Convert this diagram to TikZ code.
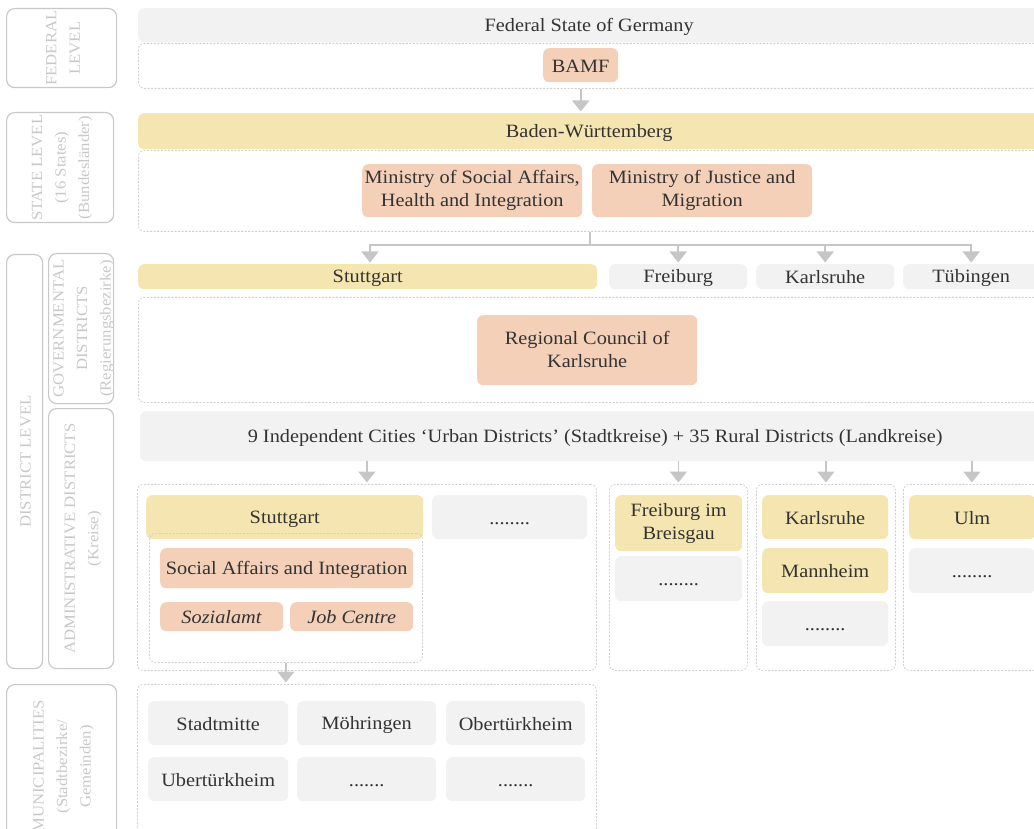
\documentclass[tikz,border=0pt]{standalone}
\usepackage{fontspec}
\setmainfont[FakeStretch=1.08]{Liberation Serif}
\usetikzlibrary{arrows.meta,calc}
\definecolor{tgray}{HTML}{F2F2F2}
\definecolor{tyel}{HTML}{F5E5B0}
\definecolor{tpeach}{HTML}{F4D0B9}
\definecolor{tline}{HTML}{D0D0D0}
\definecolor{tlab}{HTML}{C8C8C8}
\definecolor{tarrow}{HTML}{C6C6C6}
\definecolor{ttext}{HTML}{333333}
\newcommand\mystrut{\rule[-2pt]{0pt}{18pt}}
\tikzset{
 base/.style={rounded corners=6pt, inner sep=0pt, align=center, text=ttext, font=\fontsize{18.8}{23}\selectfont,
   execute at begin node=\mystrut, execute at end node=\mystrut},
 graybox/.style={base, fill=tgray},
 yelbox/.style={base, fill=tyel},
 peachbox/.style={base, fill=tpeach},
 cont/.style={rounded corners=6pt, inner sep=0pt, draw=tline, dash pattern=on 2pt off 1.5pt, line width=0.8pt},
 labbox/.style={rounded corners=8pt, inner sep=0pt, draw=tlab, line width=1.2pt},
 labtext/.style={rotate=90, align=center, text=tlab, font=\fontsize{15.5}{23.5}\selectfont},
 arr/.style={draw=tarrow, line width=1.8pt, shorten >=1.5pt, -{Triangle[width=17pt,length=11pt]}},
 conn/.style={draw=tarrow, line width=1.8pt},
}
\newcommand\bx[7]{\node[#2, minimum width={#5pt-#3pt}, minimum height={#6pt-#4pt}, anchor=north west] (#1) at (#3,#4) {#7};}
\begin{document}
\begin{tikzpicture}[x=1pt,y=-1pt]
\useasboundingbox (0,0) rectangle (1034,829);
\clip (0,0) rectangle (1034,829);
% left labels
\bx{labfed}{labbox}{6}{8}{116}{87}{}
\bx{labstate}{labbox}{6}{112}{113}{222}{}
\bx{labdist}{labbox}{6}{254}{42}{668}{}
\bx{labgov}{labbox}{48}{253}{113}{403}{}
\bx{labadm}{labbox}{48}{408}{113}{668}{}
\bx{labmun}{labbox}{6}{684}{116}{848}{}
\node[labtext] (tfed) at ($(labfed.center)+(1.5,0)$) {FEDERAL\\LEVEL};
\node[labtext] (tstate) at ($(labstate.center)+(2,0)$) {STATE LEVEL\\(16 States)\\(Bundesländer)};
\node[labtext] (tdist) at ($(labdist.center)+(1,0)$) {DISTRICT LEVEL};
\node[labtext] (tgov) at ($(labgov.center)+(2.5,0)$) {GOVERNMENTAL\\DISTRICTS\\(Regierungsbezirke)};
\node[labtext] (tadm) at ($(labadm.center)+(2,0)$) {ADMINISTRATIVE DISTRICTS\\(Kreise)};
\node[labtext] (tmun) at ($(labmun.center)+(2,0)$) {MUNICIPALITIES\\(Stadtbezirke/\\Gemeinden)};
% federal
\bx{fed}{graybox}{138}{8}{1040}{42}{Federal State of Germany}
\bx{fedcont}{cont}{138}{43}{1040}{88}{}
\bx{bamf}{peachbox}{543}{48}{618}{82}{BAMF}
% state
\bx{bw}{yelbox}{138}{113}{1040}{149}{Baden-Württemberg}
\bx{statecont}{cont}{138}{150}{1040}{231}{}
\bx{minsoc}{peachbox}{362}{164}{582}{217}{Ministry of Social Affairs,\\Health and Integration}
\bx{minjus}{peachbox}{592}{164}{812}{217}{Ministry of Justice and\\Migration}
% governmental districts
\bx{gstutt}{yelbox}{138}{264}{597}{289}{Stuttgart}
\bx{gfrei}{graybox}{609}{264}{747}{289}{Freiburg}
\bx{gkarl}{graybox}{756}{264}{894}{289}{Karlsruhe}
\bx{gtueb}{graybox}{903}{264}{1039}{289}{Tübingen}
\bx{govcont}{cont}{138}{297}{1040}{402}{}
\bx{regc}{peachbox}{477}{315}{697}{385}{Regional Council of\\Karlsruhe}
% administrative districts
\bx{indep}{graybox}{140}{411}{1050}{461}{9 Independent Cities ‘Urban Districts’ (Stadtkreise) + 35 Rural Districts (Landkreise)}
\bx{ac1}{cont}{137}{484}{596}{670}{}
\bx{ac2}{cont}{609}{484}{747}{670}{}
\bx{ac3}{cont}{756}{484}{895}{670}{}
\bx{ac4}{cont}{903}{484}{1040}{670}{}
\bx{astutt}{yelbox}{146}{495}{423}{539}{Stuttgart}
\bx{sinner}{cont}{149}{533}{422}{662}{}
\bx{social}{peachbox}{160}{548}{413}{588}{Social Affairs and Integration}
\bx{sozial}{peachbox}{160}{602}{283}{631}{\textit{Sozialamt}}
\bx{job}{peachbox}{290}{602}{413}{631}{\textit{Job Centre}}
\bx{adots1}{graybox}{432}{495}{587}{539}{........}
\bx{afrei}{yelbox}{615}{495}{742}{551}{Freiburg im\\Breisgau}
\bx{adots2}{graybox}{615}{556}{742}{601}{........}
\bx{akarl}{yelbox}{762}{495}{888}{539}{Karlsruhe}
\bx{amann}{yelbox}{762}{548}{888}{593}{Mannheim}
\bx{adots3}{graybox}{762}{601}{888}{646}{........}
\bx{aulm}{yelbox}{909}{495}{1035}{539}{Ulm}
\bx{adots4}{graybox}{909}{548}{1035}{593}{........}
% municipalities
\bx{mcont}{cont}{137}{684}{596}{850}{}
\bx{m1}{graybox}{148}{701}{288}{745}{Stadtmitte}
\bx{m2}{graybox}{297}{701}{436}{745}{Möhringen}
\bx{m3}{graybox}{446}{701}{585}{745}{Obertürkheim}
\bx{m4}{graybox}{148}{757}{288}{801}{Ubertürkheim}
\bx{m5}{graybox}{297}{757}{436}{801}{.......}
\bx{m6}{graybox}{446}{757}{585}{801}{.......}
% connectors
\draw[arr] (fedcont.south -| bamf.south) -- (bw.north -| bamf.south);
\coordinate (split) at (590,245);
\coordinate (tostutt) at (370,264);
\draw[conn] (statecont.south -| split) -- (split);
\draw[arr] (split) -| (tostutt);
\draw[arr] (split) -| (gfrei.north);
\draw[arr] (split) -| (gkarl.north);
\draw[arr] (split) -| (gtueb.north);
\draw[arr] (indep.south -| ac1.north) -- (ac1.north);
\draw[arr] (indep.south -| ac2.north) -- (ac2.north);
\draw[arr] (indep.south -| ac3.north) -- (ac3.north);
\draw[arr] (indep.south -| ac4.north) -- (ac4.north);
\draw[arr] (sinner.south) -- (mcont.north -| sinner.south);
\end{tikzpicture}
\end{document}
